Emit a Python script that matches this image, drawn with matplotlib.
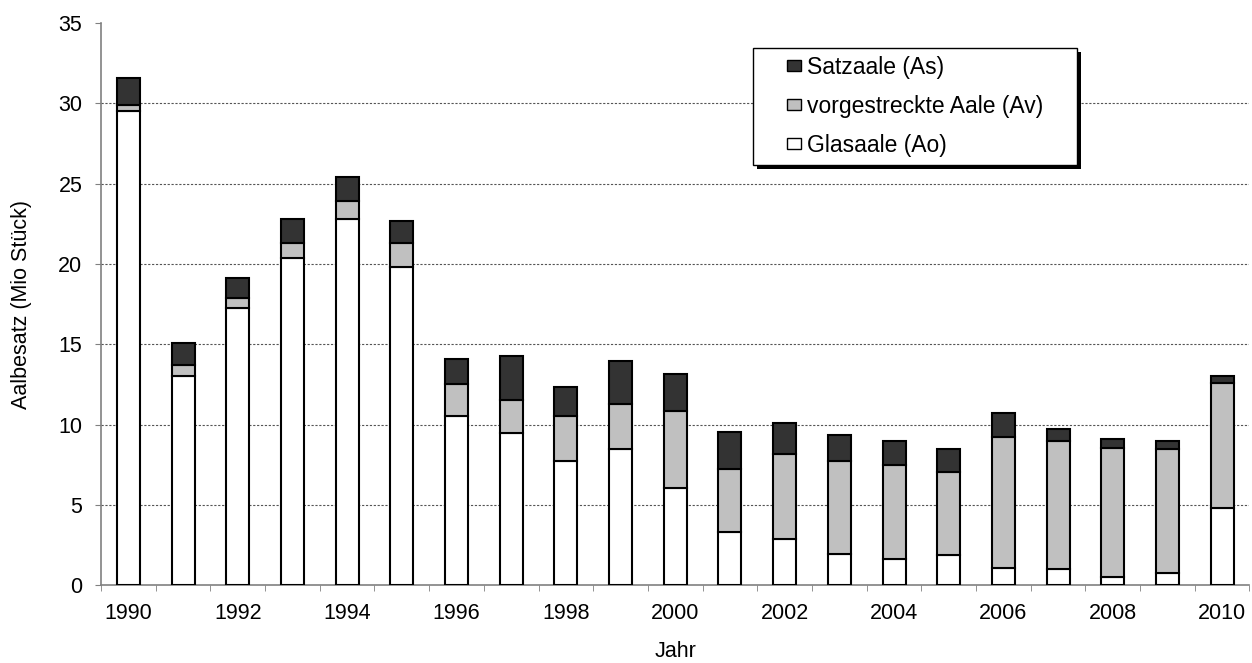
import matplotlib.pyplot as plt
from matplotlib.patches import Rectangle
import numpy as np

plt.rcParams['font.family'] = ['Liberation Sans', 'DejaVu Sans']

years = list(range(1990, 2011))
# Glasaale (Ao), vorgestreckte Aale (Av), Satzaale (As) in Mio Stueck
glasaale = [29.5, 13.05, 17.25, 20.4, 22.8, 19.8, 10.5, 9.45, 7.75, 8.5, 6.05,
            3.3, 2.85, 1.95, 1.6, 1.9, 1.05, 1.0, 0.5, 0.75, 4.8]
vorgestreckt = [0.4, 0.65, 0.6, 0.9, 1.1, 1.5, 2.05, 2.1, 2.8, 2.8, 4.8,
                3.9, 5.3, 5.75, 5.9, 5.15, 8.2, 7.95, 8.05, 7.7, 7.8]
satzaale = [1.7, 1.4, 1.25, 1.5, 1.55, 1.4, 1.5, 2.7, 1.8, 2.65, 2.3,
            2.35, 1.95, 1.65, 1.45, 1.45, 1.45, 0.75, 0.55, 0.55, 0.45]
year_labels = [str(y) if y % 2 == 0 else '' for y in years]

fs = 15.5

fig = plt.figure(figsize=(12.52, 6.63), dpi=100)
ax = fig.add_axes([0.0807, 0.1176, 0.9173, 0.8474])

x = np.arange(len(years))
w = 0.42
ao = np.array(glasaale)
av = np.array(vorgestreckt)
a_s = np.array(satzaale)
kw = dict(width=w, edgecolor='black', linewidth=1.5, zorder=3)
b1 = ax.bar(x, ao, color='white', label='Glasaale (Ao)', **kw)
b2 = ax.bar(x, av, bottom=ao, color='#c0c0c0', label='vorgestreckte Aale (Av)', **kw)
b3 = ax.bar(x, a_s, bottom=ao + av, color='#333333', label='Satzaale (As)', **kw)

ax.set_xlim(-0.5, len(years) - 0.5)
ax.set_ylim(0, 35)
ax.set_yticks(np.arange(0, 36, 5))
ax.set_xticks(x)
ax.set_xticklabels(year_labels)
ax.set_xticks(np.arange(-0.5, len(years), 1), minor=True)
ax.tick_params(axis='x', which='major', length=0, pad=13, labelsize=fs)
ax.tick_params(axis='x', which='minor', length=4.5, color='#808080', direction='out')
ax.tick_params(axis='y', length=4.5, color='#808080', labelsize=fs, pad=9)

for yv in range(5, 35, 5):
    ax.axhline(yv, color='#555555', linestyle=(0, (2, 1.5)), linewidth=0.8, zorder=1)

for s in ['top', 'right']:
    ax.spines[s].set_visible(False)
for s in ['left', 'bottom']:
    ax.spines[s].set_color('#808080')
    ax.spines[s].set_linewidth(1.2)

ax.set_xlabel('Jahr', fontsize=fs, labelpad=12)
ax.set_ylabel('Aalbesatz (Mio Stück)', fontsize=fs, labelpad=19)

# legend box with hard drop shadow
bx, by, bw, bh = 0.5675, 0.747, 0.282, 0.208
ax.add_patch(Rectangle((bx + 0.004, by - 0.007), bw, bh, transform=ax.transAxes,
                       facecolor='black', edgecolor='none', zorder=5))
ax.add_patch(Rectangle((bx, by), bw, bh, transform=ax.transAxes,
                       facecolor='white', edgecolor='black', linewidth=1.0, zorder=6))
leg = ax.legend(handles=[b3, b2, b1], loc='upper left', bbox_to_anchor=(0.597, 0.942),
                borderaxespad=0, borderpad=0, fontsize=16.5, frameon=False,
                labelspacing=0.7, handlelength=0.62, handleheight=0.4,
                handletextpad=0.26)
leg.set_zorder(7)
for h in leg.legend_handles:
    h.set_linewidth(1.0)

fig.savefig('out.png', dpi=100)
